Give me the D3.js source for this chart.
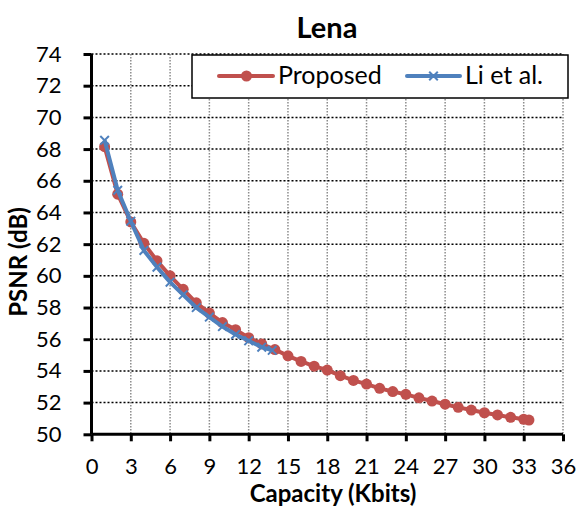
<!DOCTYPE html>
<html>
<head>
<meta charset="utf-8">
<title>Lena</title>
<script src="https://d3js.org/d3.v7.min.js"></script>
<style>
  body { margin: 0; background: #fff; }
  svg text { font-family: Lato, "Open Sans", sans-serif; fill: #000; }
</style>
</head>
<body>
<div id="chart"></div>
<script>
// data
var seriesNames = ["Proposed", "Li et al."];
var proposedX = [1, 2, 3, 4, 5, 6, 7, 8, 9, 10, 11, 12, 13, 14, 15, 16, 17, 18, 19, 20,
                 21, 22, 23, 24, 25, 26, 27, 28, 29, 30, 31, 32, 33, 33.4];
var proposedY = [68.15, 65.15, 63.4, 62.05, 60.95, 60.0, 59.15, 58.3, 57.65, 57.05,
                 56.6, 56.1, 55.7, 55.35, 54.95, 54.6, 54.3, 54.05, 53.7, 53.4,
                 53.17, 52.9, 52.7, 52.52, 52.3, 52.1, 51.9, 51.7, 51.53, 51.36,
                 51.22, 51.07, 50.95, 50.9];
var liX = [1, 2, 3, 4, 5, 6, 7, 8, 9, 10, 11, 12, 13, 13.8];
var liY = [68.55, 65.4, 63.45, 61.6, 60.55, 59.6, 58.8, 58.0, 57.4, 56.8, 56.3, 55.9, 55.5, 55.3];
var xTicks = [0, 3, 6, 9, 12, 15, 18, 21, 24, 27, 30, 33, 36];
var yTicks = [50, 52, 54, 56, 58, 60, 62, 64, 66, 68, 70, 72, 74];

var W = 580, H = 508;
// plot area (note: "top" is a reserved window property, so use other names)
var plotL = 91.5, plotR = 563, plotT = 54, plotB = 434.3;
var red = "#C0504D", blue = "#4F81BD";

var svg = d3.select("#chart").append("svg")
  .attr("width", W).attr("height", H);

var x = d3.scaleLinear().domain([0, 36]).range([plotL, plotR]);
var y = d3.scaleLinear().domain([50, 74]).range([plotB, plotT]);

// gridlines
svg.append("g").selectAll("line")
  .data(xTicks.slice(1))
  .enter().append("line")
  .attr("x1", function (d) { return x(d); }).attr("x2", function (d) { return x(d); })
  .attr("y1", plotT).attr("y2", plotB)
  .style("stroke", "#8c8c8c").style("stroke-width", 1.5)
  .style("stroke-dasharray", "1.5,1.5");

svg.append("g").selectAll("line")
  .data(yTicks.slice(1))
  .enter().append("line")
  .attr("x1", plotL).attr("x2", plotR)
  .attr("y1", function (d) { return y(d); }).attr("y2", function (d) { return y(d); })
  .style("stroke", "#000").style("stroke-width", 1.5)
  .style("stroke-dasharray", "2,2");

// axes
var xAxis = svg.append("g")
  .attr("transform", "translate(0," + plotB + ")")
  .call(d3.axisBottom(x).tickValues(xTicks).tickSize(7).tickPadding(17));
var yAxis = svg.append("g")
  .attr("transform", "translate(" + plotL + ",0)")
  .call(d3.axisLeft(y).tickValues(yTicks).tickSize(8).tickPadding(22));

[xAxis, yAxis].forEach(function (a) {
  a.select(".domain").style("stroke", "#000").style("stroke-width", 3);
  a.selectAll(".tick line").style("stroke", "#000").style("stroke-width", 3);
  a.selectAll(".tick text").style("font-size", "22px")
    .style("font-family", "Lato, sans-serif");
});
xAxis.select(".domain").attr("d", "M" + plotL + ",0H" + plotR);
yAxis.select(".domain").attr("d", "M0," + plotB + "V" + plotT);

// lines
var line = d3.line()
  .x(function (d) { return x(d[0]); })
  .y(function (d) { return y(d[1]); });

var proposed = proposedX.map(function (d, i) { return [d, proposedY[i]]; });
var li = liX.map(function (d, i) { return [d, liY[i]]; });

svg.append("path").datum(proposed)
  .attr("d", line)
  .style("fill", "none").style("stroke", red).style("stroke-width", 4)
  .style("stroke-linejoin", "round");

svg.append("g").selectAll("circle")
  .data(proposed)
  .enter().append("circle")
  .attr("cx", function (d) { return x(d[0]); })
  .attr("cy", function (d) { return y(d[1]); })
  .attr("r", 5.5)
  .style("fill", red);

svg.append("path").datum(li)
  .attr("d", line)
  .style("fill", "none").style("stroke", blue).style("stroke-width", 4)
  .style("stroke-linejoin", "round");

var crossSym = d3.symbol().type(d3.symbolX).size(50);
svg.append("g").selectAll("path")
  .data(li)
  .enter().append("path")
  .attr("transform", function (d) { return "translate(" + x(d[0]) + "," + y(d[1]) + ")"; })
  .attr("d", crossSym)
  .style("fill", "none").style("stroke", blue).style("stroke-width", 2);

// legend
var lg = svg.append("g");
lg.append("rect")
  .attr("x", 192).attr("y", 55).attr("width", 376).attr("height", 43)
  .style("fill", "#fff").style("stroke", "#000").style("stroke-width", 1.5);

lg.append("line").attr("x1", 219).attr("x2", 273).attr("y1", 76).attr("y2", 76)
  .style("stroke", red).style("stroke-width", 4).style("stroke-linecap", "round");
lg.append("circle").attr("cx", 246.5).attr("cy", 76).attr("r", 5.5).style("fill", red);
lg.append("text").attr("x", 278).attr("y", 84)
  .style("font-size", "25px").text(seriesNames[0]);

lg.append("line").attr("x1", 407).attr("x2", 460).attr("y1", 76).attr("y2", 76)
  .style("stroke", blue).style("stroke-width", 4).style("stroke-linecap", "round");
lg.append("path").attr("transform", "translate(433.5,76)").attr("d", crossSym)
  .style("fill", "none").style("stroke", blue).style("stroke-width", 2);
lg.append("text").attr("x", 465).attr("y", 84)
  .style("font-size", "25px").text(seriesNames[1]);

// titles
svg.append("text")
  .attr("x", 327).attr("y", 38)
  .attr("text-anchor", "middle")
  .style("font-size", "29px").style("font-weight", "bold")
  .text("Lena");

svg.append("text")
  .attr("x", 333).attr("y", 502)
  .attr("text-anchor", "middle")
  .style("font-size", "24px").style("font-weight", "bold")
  .text("Capacity (Kbits)");

svg.append("text")
  .attr("transform", "translate(27,262) rotate(-90)")
  .attr("text-anchor", "middle")
  .style("font-size", "24px").style("font-weight", "bold")
  .text("PSNR (dB)");
</script>
</body>
</html>
